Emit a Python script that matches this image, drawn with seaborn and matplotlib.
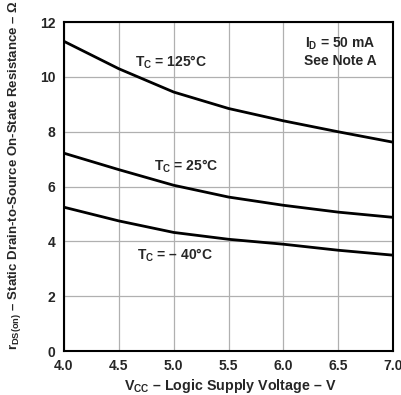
import numpy as np
import pandas as pd
import matplotlib
matplotlib.use("Agg")
import matplotlib.pyplot as plt
import seaborn as sns

# Supply voltage (V)
vcc = [4.0, 4.5, 5.0, 5.5, 6.0, 6.5, 7.0]
# r_DS(on) in ohms per case temperature
r_125 = [11.3, 10.3, 9.45, 8.85, 8.4, 8.0, 7.62]
r_25 = [7.22, 6.62, 6.05, 5.62, 5.32, 5.07, 4.88]
r_m40 = [5.25, 4.75, 4.33, 4.08, 3.9, 3.68, 3.5]

x_ticks = [4.0, 4.5, 5.0, 5.5, 6.0, 6.5, 7.0]
y_ticks = [0, 2, 4, 6, 8, 10, 12]

df = pd.DataFrame({
    "vcc": vcc * 3,
    "r": r_125 + r_25 + r_m40,
    "tc": ["125"] * 7 + ["25"] * 7 + ["-40"] * 7,
})

sns.set_style("white")
plt.rcParams["font.family"] = ["Liberation Sans", "DejaVu Sans"]
plt.rcParams["font.weight"] = "bold"
plt.rcParams["mathtext.fontset"] = "custom"
plt.rcParams["mathtext.rm"] = "Liberation Sans:bold"
plt.rcParams["mathtext.bf"] = "Liberation Sans:bold"
plt.rcParams["mathtext.default"] = "bf"

fig = plt.figure(figsize=(4.02, 3.95), dpi=100)
ax = fig.add_axes([0.159, 0.111, 0.819, 0.833])

sns.lineplot(data=df, x="vcc", y="r", hue="tc",
             palette=["black", "black", "black"], linewidth=2.0,
             legend=False, ax=ax)

ax.set_xlim(4.0, 7.0)
ax.set_ylim(0, 12)
ax.set_xticks(x_ticks)
ax.set_xticklabels([f"{v:.1f}" for v in x_ticks])
ax.set_yticks(y_ticks)
ax.tick_params(length=0, labelsize=10, pad=6)
for lbl in ax.get_xticklabels() + ax.get_yticklabels():
    lbl.set_fontweight("bold")
ax.grid(True, color="#b0b0b0", linewidth=0.9)
for s in ax.spines.values():
    s.set_color("black")
    s.set_linewidth(1.5)

ax.set_xlabel(r"V$_{CC}$ – Logic Supply Voltage – V", fontsize=10.3, fontweight="bold")
ax.xaxis.set_label_coords(0.505, -0.078)
ax.set_ylabel(r"r$_{DS(on)}$ – Static Drain-to-Source On-State Resistance – Ω",
              fontsize=9.5, fontweight="bold")
ax.yaxis.set_label_coords(-0.125, 0.535)

ax.text(4.65, 10.38, r"T$_{C}$ = 125°C", fontsize=10, fontweight="bold")
ax.text(4.82, 6.6, r"T$_{C}$ = 25°C", fontsize=10, fontweight="bold")
ax.text(4.67, 3.35, r"T$_{C}$ = – 40°C", fontsize=10, fontweight="bold")
ax.text(6.52, 11.2, r"I$_{D}$ = 50 mA", fontsize=10, fontweight="bold", ha="center", va="center")
ax.text(6.52, 10.6, "See Note A", fontsize=10, fontweight="bold", ha="center", va="center")

fig.savefig("out.png", dpi=100)
